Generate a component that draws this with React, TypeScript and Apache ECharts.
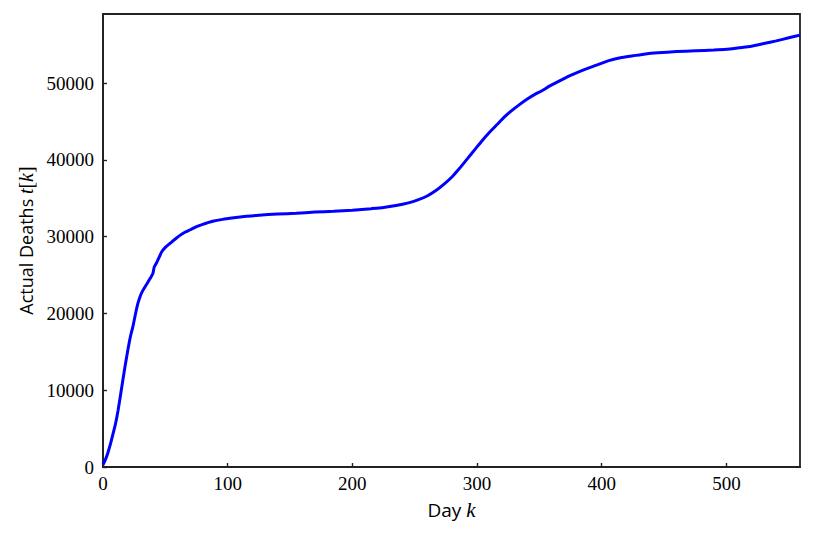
import React, { useEffect, useRef } from "react";
import * as echarts from "echarts";

const days = [0, 2, 4, 6, 8, 10, 12, 14, 16, 18, 20, 22, 24, 26, 28, 30, 32, 35, 38, 40, 41, 43, 45, 47, 50, 54, 58, 62, 66, 70, 75, 80, 88, 96, 105, 115, 125, 140, 155, 170, 185, 200, 215, 225, 235, 245, 252, 260, 267, 274, 280, 286, 292, 298, 304, 310, 316, 322, 328, 334, 340, 346, 352, 358, 365, 375, 385, 395, 405, 415, 425, 435, 445, 460, 475, 490, 500, 510, 520, 530, 540, 550, 559];
const deaths = [300, 1000, 1900, 3000, 4300, 5600, 7300, 9300, 11400, 13400, 15300, 17000, 18300, 19900, 21300, 22300, 23000, 23800, 24600, 25200, 26000, 26600, 27300, 28000, 28600, 29150, 29700, 30200, 30600, 30900, 31300, 31600, 32000, 32250, 32450, 32650, 32800, 32950, 33050, 33200, 33300, 33450, 33650, 33800, 34050, 34400, 34750, 35300, 36000, 36900, 37800, 38900, 40100, 41300, 42500, 43600, 44600, 45600, 46450, 47200, 47900, 48500, 49000, 49600, 50200, 51000, 51700, 52300, 52900, 53300, 53550, 53800, 53950, 54100, 54200, 54300, 54400, 54600, 54800, 55150, 55500, 55900, 56250];
const xTicks = [0, 100, 200, 300, 400, 500];
const yTicks = [0, 10000, 20000, 30000, 40000, 50000];

export default function App() {
  const ref = useRef<HTMLDivElement>(null);
  useEffect(() => {
    if (!ref.current) return;
    const chart = echarts.init(ref.current, null, { renderer: "svg" });
    const serif = "'Liberation Serif', serif";
    const sans = "'Open Sans', 'Noto Sans', sans-serif";
    chart.setOption({
      animation: false,
      backgroundColor: "#ffffff",
      grid: { left: 103, right: 15, top: 14, bottom: 68, show: true, borderColor: "#222", borderWidth: 1.8, backgroundColor: "transparent" },
      xAxis: {
        type: "value",
        min: 0,
        max: 559,
        name: "{s|Day }{m|k}",
        nameLocation: "middle",
        nameGap: 32,
        nameTextStyle: {
          rich: {
            s: { fontFamily: sans, fontSize: 19, color: "#000" },
            m: { fontFamily: serif, fontStyle: "italic", fontSize: 21, color: "#000" },
          },
        },
        axisLine: { show: true, lineStyle: { color: "#222", width: 1.8 } },
        axisTick: { show: true, inside: true, length: 4, customValues: xTicks, lineStyle: { color: "#222", width: 1.4 } },
        axisLabel: { customValues: xTicks, formatter: (v: number) => String(v), fontFamily: serif, fontSize: 19, color: "#000", margin: 7 },
        splitLine: { show: false },
      },
      yAxis: {
        type: "value",
        min: 0,
        max: 59000,
        name: "{s|Actual Deaths }{m|t}{r|[}{m|k}{r|]}",
        nameLocation: "middle",
        nameGap: 63,
        nameTextStyle: {
          rich: {
            s: { fontFamily: sans, fontSize: 18, color: "#000" },
            m: { fontFamily: serif, fontStyle: "italic", fontSize: 20, color: "#000" },
            r: { fontFamily: serif, fontSize: 20, color: "#000" },
          },
        },
        axisLine: { show: true, lineStyle: { color: "#222", width: 1.8 } },
        axisTick: { show: true, inside: true, length: 4, customValues: yTicks, lineStyle: { color: "#222", width: 1.4 } },
        axisLabel: { customValues: yTicks, formatter: (v: number) => String(v), fontFamily: serif, fontSize: 19, color: "#000", margin: 9 },
        splitLine: { show: false },
      },
      series: [
        {
          type: "line",
          data: days.map((d, i) => [d, deaths[i]]),
          showSymbol: false,
          smooth: 0.2,
          lineStyle: { color: "#0000ff", width: 3 },
          clip: true,
        },
      ],
    });
    return () => chart.dispose();
  }, []);
  return <div ref={ref} style={{ position: "fixed", left: 0, top: 0, width: 815, height: 535 }} />;
}
